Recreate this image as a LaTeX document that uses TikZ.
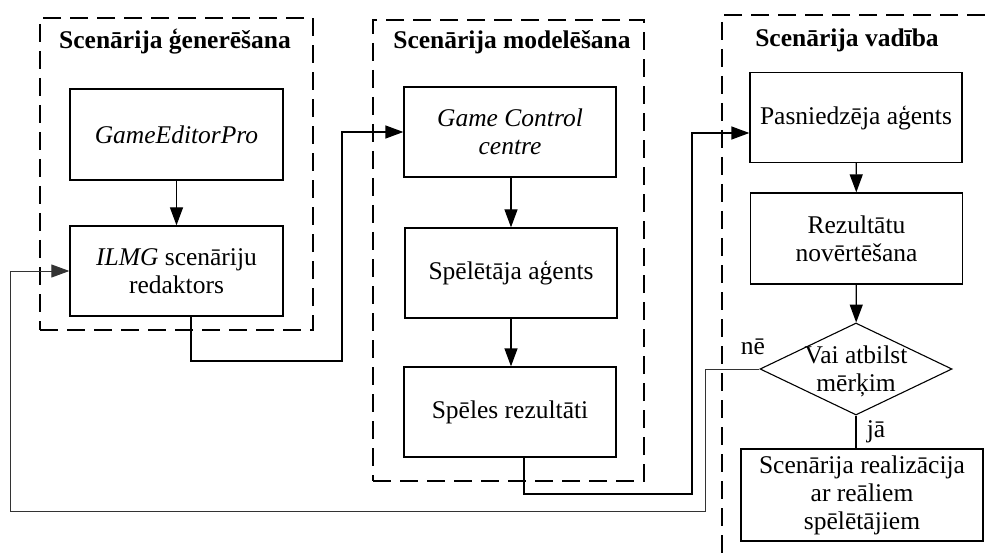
\documentclass[tikz,border=0pt]{standalone}
\usepackage{fontspec}
\setmainfont{Liberation Serif}
\usetikzlibrary{arrows.meta,shapes.geometric}
\begin{document}
\begin{tikzpicture}[x=1pt,y=-1pt,
  every node/.style={font=\fontsize{25.5}{28}\selectfont},
  block/.style={draw, line width=1.3pt, align=center, inner sep=2pt,
    minimum width=212pt, minimum height=90pt},
  group/.style={draw, line width=1.3pt, dash pattern=on 18pt off 9pt},
  grouptitle/.style={font=\fontsize{25.5}{28}\selectfont\bfseries},
  decision/.style={draw, diamond, line width=1.1pt, inner sep=0pt,
    minimum width=192pt, minimum height=92pt},
  tip/.style={-{Triangle[length=18pt,width=13pt]}},
  flow/.style={line width=1.3pt, tip},
  link/.style={line width=1.3pt},
  backlink/.style={line width=1pt, draw=black!80, tip},
  tag/.style={inner sep=0pt}
]
\useasboundingbox (0,0) rectangle (985,556);

% dashed group frames
\node[group, minimum width=273pt, minimum height=312pt] (g1) at (176.5,174) {};
\node[group, minimum width=271pt, minimum height=461pt] (g2) at (508.5,250.5) {};
\draw[group] (985,15) -- (722,15) -- (722,556);

% group titles
\node[grouptitle] (t1) at (175,42) {Scenārija ģenerēšana};
\node[grouptitle] (t2) at (512,42) {Scenārija modelēšana};
\node[grouptitle] (t3) at (847,40) {Scenārija vadība};

% scenario generation
\node[block, minimum width=213pt, minimum height=91pt] (gep) at (176.5,134.5) {\textit{GameEditorPro}};
\node[block, minimum width=213pt] (ilmg) at (176.5,271) {\textit{ILMG} scenāriju\\redaktors};

% scenario modelling
\node[block] (gcc) at (510,132) {\textit{Game Control}\\\textit{centre}};
\node[block] (spa) at (511,273) {Spēlētāja aģents};
\node[block] (res) at (510,412) {Spēles rezultāti};

% scenario control
\node[block] (pas) at (856,117.5) {Pasniedzēja aģents};
\node[block, minimum height=91pt] (rez) at (856.5,238.5) {Rezultātu\\novērtēšana};
\node[decision] (dia) at (856,369) {};
\node[tag, align=center] (diatext) at (856,371) {Vai atbilst\\mērķim};
\node[block, minimum width=242pt, minimum height=92pt, inner sep=0pt] (real) at (862,495)
  {Scenārija realizācija\\ar reāliem\\spēlētājiem};

\node[tag] (ne) at (753,347) {nē};
\node[tag] (ja) at (876,432) {jā};

% routing points
\coordinate (k1) at (342,361);
\coordinate (k2) at (692,494);
\coordinate (k3) at (705,511);
\coordinate (k4) at (10,271);

% connectors
\draw[flow] (gep) -- (ilmg);
\draw[flow] ([xshift=14.5pt]ilmg.south) |- (k1) |- (gcc.west);
\draw[flow] (gcc.south -| spa.south) -- (spa);
\draw[flow] (spa.south) -- (res.north -| spa.south);
\draw[flow] ([xshift=14pt]res.south) |- (k2) |- ([yshift=-15.5pt]pas.west);
\draw[flow] (pas) -- (rez);
\draw[flow] (rez) -- (dia);
\draw[link] (dia.south) -- (real.north -| dia.south);
\draw[backlink] (dia.west) -| (k3) -| (k4) -- (ilmg.west);
\end{tikzpicture}
\end{document}
